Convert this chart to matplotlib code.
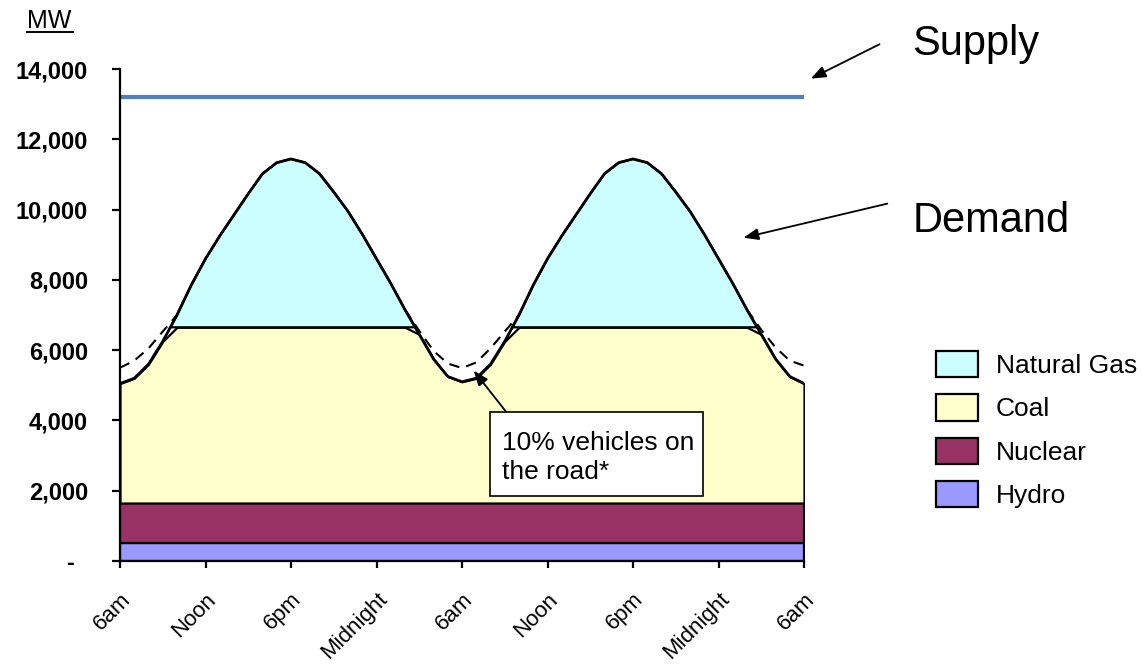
import numpy as np
import matplotlib
matplotlib.use("Agg")
import matplotlib.pyplot as plt
from matplotlib.patches import Patch, Rectangle
import matplotlib.transforms as mtransforms

plt.rcParams["font.family"] = ["Liberation Sans", "DejaVu Sans"]

# *** data (hours after 6am, MW) ***
hours = list(range(49))
demand_mw = [5050, 5200, 5600, 6250, 7000, 7850, 8600, 9250, 9850, 10450, 11020, 11335,
             11440, 11335, 11020, 10500, 9950, 9300, 8600, 7900, 7150, 6450, 5750, 5250,
             5100, 5200, 5600, 6250, 7000, 7850, 8600, 9250, 9850, 10450, 11020, 11335,
             11440, 11335, 11020, 10500, 9950, 9300, 8600, 7900, 7150, 6450, 5750, 5250,
             5050]

# demand with 10% electric vehicles charging at night (dashed line)
ev_hours = [0, 1, 2, 3, 4, None,
            20, 21, 22, 23, 24, 25, 26, 27, 28, None,
            44, 45, 46, 47, 48]
ev_mw = [5500, 5700, 6050, 6530, 7000, None,
         7150, 6550, 5980, 5620, 5490, 5650, 6050, 6530, 7000, None,
         7150, 6580, 6080, 5700, 5560]

supply_mw = 13200
hydro_mw = 500
nuclear_top_mw = 1650
coal_top_mw = 6650

tick_hours = [0, 6, 12, 18, 24, 30, 36, 42, 48]
tick_names = ["6am", "Noon", "6pm", "Midnight", "6am", "Noon", "6pm", "Midnight", "6am"]
y_ticks = [0, 2000, 4000, 6000, 8000, 10000, 12000, 14000]

layer_names = ["Natural Gas", "Coal", "Nuclear", "Hydro"]
layer_colors = ["#CCFFFF", "#FFFFCC", "#993366", "#9999FF"]

# *** figure ***
W, H = 1142, 666
fig = plt.figure(figsize=(W / 100, H / 100), dpi=100)
ax = fig.add_axes([120 / W, 1 - 561 / H, (804 - 120) / W, (561 - 69) / H])

x = np.array(hours, dtype=float)
d = np.array(demand_mw, dtype=float)
edge = dict(edgecolor="black", linewidth=1.6)

ax.fill_between(x, 0, hydro_mw, facecolor=layer_colors[3], **edge)
ax.fill_between(x, hydro_mw, nuclear_top_mw, facecolor=layer_colors[2], **edge)
ax.fill_between(x, nuclear_top_mw, np.minimum(d, coal_top_mw), facecolor=layer_colors[1], **edge)
ax.fill_between(x, coal_top_mw, d, where=d > coal_top_mw, interpolate=True,
                facecolor=layer_colors[0], **edge)

ax.plot(x, d, color="black", lw=2.0, solid_joinstyle="round")

ev_x = np.array([np.nan if h is None else h for h in ev_hours], dtype=float)
ev_y = np.array([np.nan if v is None else v for v in ev_mw], dtype=float)
ax.plot(ev_x, ev_y, color="black", lw=1.5, linestyle=(0, (5, 3.5)))

ax.plot([hours[0], hours[-1]], [supply_mw, supply_mw], color="#4F81BD", lw=3.0,
        solid_capstyle="butt")

ax.set_xlim(0, 48)
ax.set_ylim(0, 14000)
for side in ["top", "right"]:
    ax.spines[side].set_visible(False)
for side in ["left", "bottom"]:
    ax.spines[side].set_linewidth(1.6)

ax.set_xticks(tick_hours)
ax.set_xticklabels(tick_names, rotation=45, ha="right", va="top", rotation_mode="anchor",
                   fontsize=16)
ax.set_yticks(y_ticks)
ax.set_yticklabels(["-" if v == 0 else f"{v:,}" for v in y_ticks], fontsize=17,
                   fontweight="bold")
ax.tick_params(axis="y", direction="out", length=6, width=1.6, pad=17)
ax.tick_params(axis="x", direction="out", length=5, width=1.6, pad=15)

# nudge the zero dash left like the original
zero_lbl = ax.get_yticklabels()[0]
zero_lbl.set_transform(zero_lbl.get_transform() +
                       mtransforms.ScaledTranslation(-14 / 100, 0, fig.dpi_scale_trans))

# *** labels and annotations ***
fig.text(27 / W, 1 - 28 / H, "MW", fontsize=18, ha="left", va="baseline")
fig.add_artist(plt.Line2D([27 / W, 73 / W], [1 - 32 / H, 1 - 32 / H], color="black", lw=1.4))

fig.text(912 / W, 1 - 55 / H, "Supply", fontsize=30, ha="left", va="baseline")
fig.text(913 / W, 1 - 232 / H, "Demand", fontsize=30, ha="left", va="baseline")

arrow = dict(arrowstyle="-|>,head_length=0.9,head_width=0.35", color="black", lw=1.3)
ax.annotate("", xy=(48.3, 13690), xycoords="data", annotation_clip=False,
            xytext=(882 / W, 1 - 43 / H), textcoords="figure fraction", arrowprops=arrow)
ax.annotate("", xy=(43.56, 9180), xycoords="data", annotation_clip=False,
            xytext=(890 / W, 1 - 203 / H), textcoords="figure fraction", arrowprops=arrow)
ax.annotate("", xy=(24.7, 5480), xycoords="data", annotation_clip=False,
            xytext=(511 / W, 1 - 418 / H), textcoords="figure fraction", arrowprops=arrow)

box = Rectangle((490 / W, 1 - 496 / H), (703 - 490) / W, (496 - 412) / H,
                transform=fig.transFigure, facecolor="white", edgecolor="black", lw=1.2)
fig.add_artist(box)
fig.text(502 / W, 1 - 479 / H, "10% vehicles on\nthe road*", fontsize=19, ha="left",
         va="baseline", linespacing=1.25)

handles = [Patch(facecolor=c, edgecolor="black", lw=1.6) for c in layer_colors]
fig.legend(handles, layer_names, loc="upper left", bbox_to_anchor=(936 / W, 1 - 351 / H),
           frameon=False, fontsize=19, handlelength=1.6, handleheight=1.15,
           handletextpad=0.66, labelspacing=0.62, borderpad=0, borderaxespad=0)

fig.savefig("out.png", dpi=100)
